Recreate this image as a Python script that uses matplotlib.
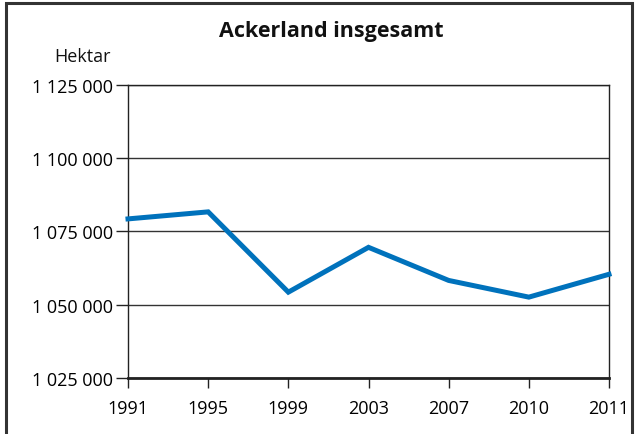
import matplotlib
matplotlib.use('Agg')

import matplotlib.pyplot as plt
import matplotlib.ticker as mtick
from matplotlib.patches import Rectangle

# Ackerland insgesamt, Hektar
years = ["1991", "1995", "1999", "2003", "2007", "2010", "2011"]
hektar = [1079300, 1081700, 1054300, 1069600, 1058300, 1052600, 1060400]
y_ticks = [1025000, 1050000, 1075000, 1100000, 1125000]

plt.rcParams['font.family'] = ['Open Sans', 'DejaVu Sans']

fig = plt.figure(figsize=(6.42, 4.35), dpi=100)
ax = fig.add_axes([128 / 642, 1 - 379 / 435, 481 / 642, 293 / 435])

# outer frame of the chart
fig.patches.append(Rectangle((6 / 642, -0.05), 626 / 642, 1.04, transform=fig.transFigure,
                             fill=False, edgecolor="#333333", linewidth=2.2))

x = list(range(len(years)))
ax.plot(x, hektar, color="#0072bc", linewidth=3.6, solid_joinstyle="miter", clip_on=False, zorder=3)

ax.set_xlim(0, len(years) - 1)
ax.set_ylim(y_ticks[0], y_ticks[-1])
ax.set_xticks(x)
ax.set_xticklabels(years, fontsize=13)
ax.set_yticks(y_ticks)
ax.yaxis.set_major_formatter(mtick.FuncFormatter(lambda v, p: f"{v:,.0f}".replace(",", " ")))
ax.tick_params(axis="y", length=9, width=1, labelsize=13, pad=2, color="#222222")
ax.tick_params(axis="x", length=7, width=1, pad=8, color="#222222")
ax.grid(True, axis="y", color="#333333", linewidth=1)

for side in ["left", "right", "top"]:
    ax.spines[side].set_color("#222222")
    ax.spines[side].set_linewidth(1)
ax.spines["bottom"].set_linewidth(2)
ax.spines["bottom"].set_color("#222222")

fig.text(331 / 642, 1 - 32 / 435, "Ackerland insgesamt", ha="center", va="center",
         fontsize=15.5, fontweight="bold", color="#111111")
fig.text(111 / 642, 1 - 57 / 435, "Hektar", ha="right", va="center", fontsize=13, color="#111111")

fig.savefig("out.png", dpi=100)
